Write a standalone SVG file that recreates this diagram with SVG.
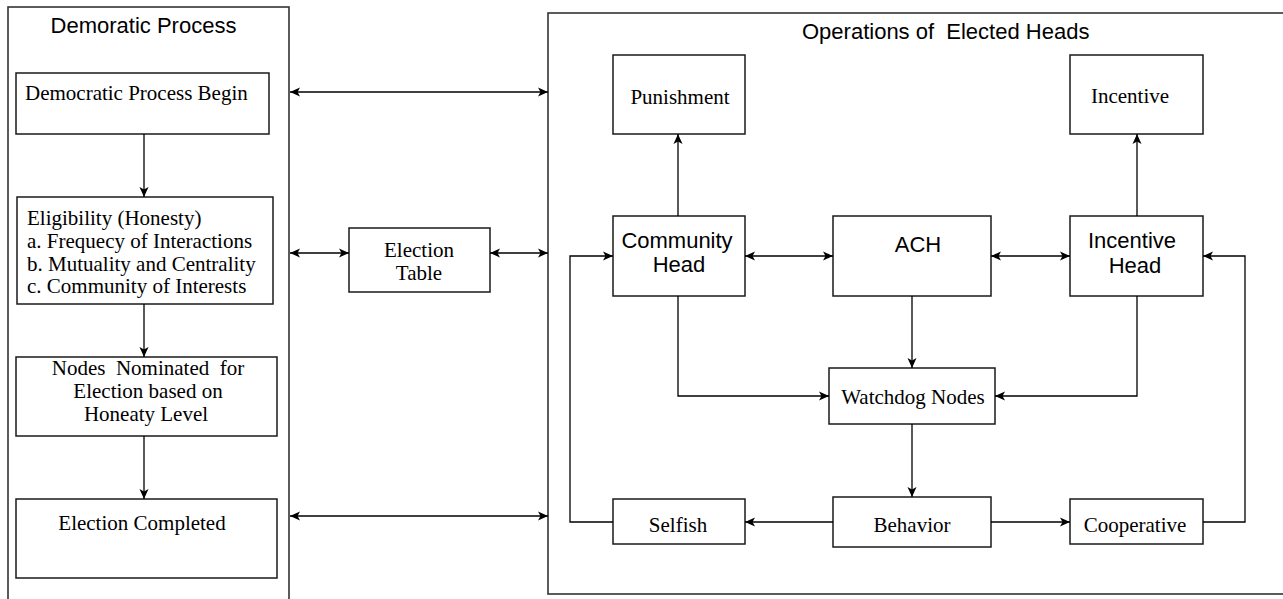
<svg xmlns="http://www.w3.org/2000/svg" width="1283" height="599" viewBox="0 0 1283 599">
<style>
.box{fill:#fff;stroke:#1a1a1a;stroke-width:1.5}
.cont{fill:none;stroke:#333;stroke-width:1.6}
.ser{font-family:"Liberation Serif","Times New Roman",serif;font-size:21px;fill:#000;white-space:pre}
.san{font-family:"Liberation Sans",Arial,sans-serif;font-size:22px;fill:#000;white-space:pre}
.c{text-anchor:middle}
.ln{fill:none;stroke:#000;stroke-width:1.3}
.e{marker-end:url(#arr)}
.b{marker-start:url(#arr);marker-end:url(#arr)}
</style>
<defs>
<marker id="arr" markerUnits="userSpaceOnUse" viewBox="0 0 10 10" refX="10" refY="5" markerWidth="10" markerHeight="10" orient="auto-start-reverse">
<path d="M0,0.5 L10,5 L0,9.5 L2.5,5 z" fill="#000"/>
</marker>
</defs>
<rect width="1283" height="599" fill="#fff"/>
<g id="democratic-process">
<rect class="cont" x="8" y="7" width="281" height="600"/>
<text class="san c" x="143.5" y="33">Demoratic Process</text>
</g>
<g id="operations">
<rect class="cont" x="548" y="13" width="745" height="581"/>
<text class="san" x="802" y="39">Operations of  Elected Heads</text>
</g>
<g id="begin">
<rect class="box" x="16" y="73" width="253" height="61"/>
<text class="ser" x="25" y="100">Democratic Process Begin</text>
</g>
<g id="eligibility">
<rect class="box" x="17" y="197" width="256" height="107"/>
<text class="ser" x="27" y="225">Eligibility (Honesty)</text>
<text class="ser" x="27" y="247.5">a. Frequecy of Interactions</text>
<text class="ser" x="27" y="270.5">b. Mutuality and Centrality</text>
<text class="ser" x="27" y="292.5">c. Community of Interests</text>
</g>
<g id="nominated">
<rect class="box" x="16" y="357" width="261" height="79"/>
<text class="ser c" x="148" y="375">Nodes  Nominated  for</text>
<text class="ser c" x="148" y="398">Election based on</text>
<text class="ser c" x="146" y="421">Honeaty Level</text>
</g>
<g id="completed">
<rect class="box" x="16" y="499" width="261" height="79"/>
<text class="ser c" x="142" y="530">Election Completed</text>
</g>
<g id="election-table">
<rect class="box" x="349" y="228" width="141" height="64"/>
<text class="ser c" x="419" y="257">Election</text>
<text class="ser c" x="419" y="280">Table</text>
</g>
<g id="punishment">
<rect class="box" x="613" y="55" width="132" height="79"/>
<text class="ser c" x="680" y="104">Punishment</text>
</g>
<g id="incentive">
<rect class="box" x="1070" y="55" width="133" height="79"/>
<text class="ser c" x="1130" y="103">Incentive</text>
</g>
<g id="community-head">
<rect class="box" x="613" y="216" width="132" height="80"/>
<text class="san c" x="677" y="248">Community</text>
<text class="san c" x="679" y="272">Head</text>
</g>
<g id="ach">
<rect class="box" x="833" y="216" width="158" height="80"/>
<text class="san c" x="918" y="252">ACH</text>
</g>
<g id="incentive-head">
<rect class="box" x="1070" y="216" width="133" height="80"/>
<text class="san c" x="1132" y="248">Incentive</text>
<text class="san c" x="1135" y="273">Head</text>
</g>
<g id="watchdog">
<rect class="box" x="829" y="368" width="166" height="56"/>
<text class="ser c" x="913" y="404">Watchdog Nodes</text>
</g>
<g id="selfish">
<rect class="box" x="613" y="499" width="132" height="45"/>
<text class="ser c" x="678" y="532">Selfish</text>
</g>
<g id="behavior">
<rect class="box" x="833" y="497" width="158" height="50"/>
<text class="ser c" x="912" y="532">Behavior</text>
</g>
<g id="cooperative">
<rect class="box" x="1070" y="499" width="133" height="45"/>
<text class="ser c" x="1135" y="532">Cooperative</text>
</g>
<g id="connectors">
<path class="ln e" d="M144,134 V197"/>
<path class="ln e" d="M144,304 V357"/>
<path class="ln e" d="M144,436 V499"/>
<path class="ln b" d="M290,92 H548"/>
<path class="ln b" d="M290,253 H349"/>
<path class="ln b" d="M490,253 H548"/>
<path class="ln b" d="M290,516 H548"/>
<path class="ln e" d="M678,216 V134"/>
<path class="ln e" d="M1137,216 V134"/>
<path class="ln b" d="M745,256 H833"/>
<path class="ln b" d="M991,256 H1070"/>
<path class="ln e" d="M912,296 V368"/>
<path class="ln e" d="M678,296 V396 H829"/>
<path class="ln e" d="M1137,296 V396 H995"/>
<path class="ln e" d="M912,424 V497"/>
<path class="ln e" d="M833,522 H745"/>
<path class="ln e" d="M991,522 H1070"/>
<path class="ln e" d="M613,522 H570 V256 H613"/>
<path class="ln e" d="M1203,522 H1245 V256 H1203"/>
</g>
</svg>
